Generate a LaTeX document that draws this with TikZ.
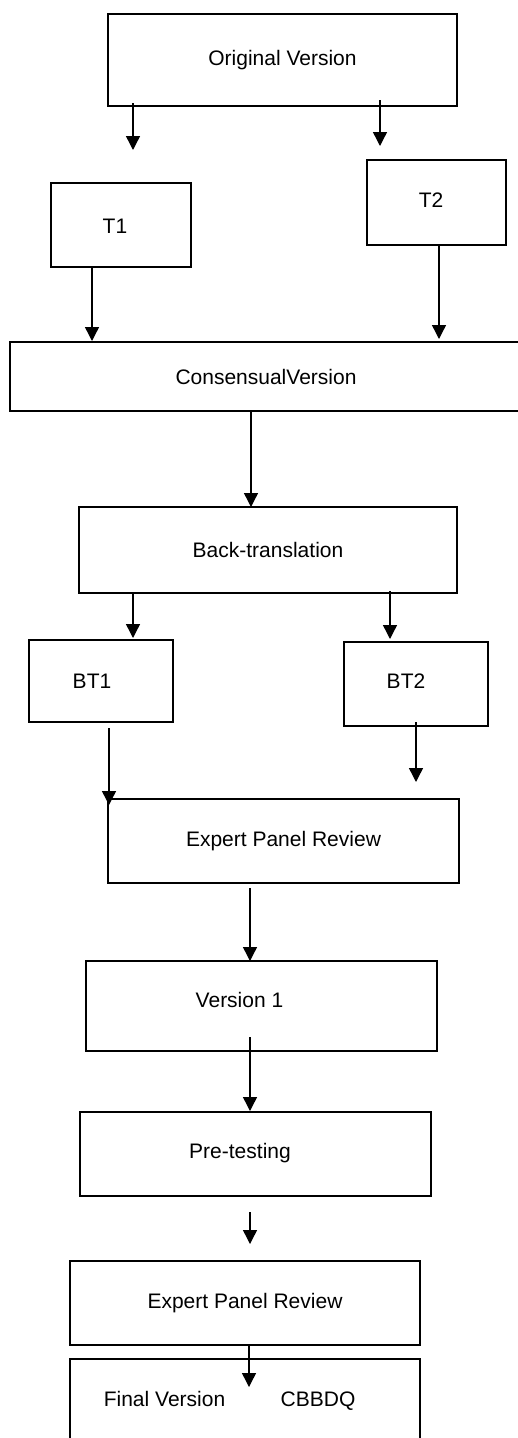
\documentclass[tikz,border=0pt]{standalone}
\usepackage{fontspec}
\setmainfont{Liberation Sans}
\usetikzlibrary{arrows.meta,calc}
\begin{document}
\begin{tikzpicture}[x=1pt,y=-1pt,
  font=\fontsize{21}{25}\selectfont,
  box/.style={draw,line width=1.5pt,inner sep=0pt,outer sep=0pt},
  lab/.style={text height=15pt,text depth=0pt},
  arr/.style={line width=1.4pt,-{Triangle[width=14pt,length=14pt]}}]
\useasboundingbox (0,0) rectangle (518,1438);
\clip (0,0) rectangle (518,1438);
% boxes
\node[box,minimum width=349pt,minimum height=92pt] (orig) at (282.5,60) {Original Version};
\node[box,minimum width=140pt,minimum height=84pt,
  label={[name=t1t,lab,xshift=-6pt,yshift=-0.5pt]center:T1}] (t1) at (121,225) {};
\node[box,minimum width=139pt,minimum height=85pt,
  label={[name=t2t,lab,xshift=-5.5pt,yshift=2.5pt]center:T2}] (t2) at (436.5,202.5) {};
\node[box,minimum width=512pt,minimum height=69pt] (cons) at (266,376.5) {ConsensualVersion};
\node[box,minimum width=378pt,minimum height=86pt] (bt) at (268,550) {Back-translation};
\node[box,minimum width=144pt,minimum height=82pt,
  label={[name=bt1t,lab,xshift=-9pt]center:BT1}] (bt1) at (101,681) {};
\node[box,minimum width=144pt,minimum height=84pt,
  label={[name=bt2t,lab,xshift=-10pt,yshift=3pt]center:BT2}] (bt2) at (416,684) {};
\node[box,minimum width=351pt,minimum height=84pt] (epr1) at (283.5,841) {Expert Panel Review};
\node[box,minimum width=351pt,minimum height=90pt,
  label={[name=v1t,lab,xshift=-22pt,yshift=6pt]center:Version 1}] (v1) at (261.5,1006) {};
\node[box,minimum width=351pt,minimum height=84pt,
  label={[name=pret,lab,xshift=-15.5pt,yshift=3.5pt]center:Pre-testing}] (pre) at (255.5,1154) {};
\node[box,minimum width=350pt,minimum height=84pt] (epr2) at (245,1303) {Expert Panel Review};
\node[box,minimum width=350pt,minimum height=90pt,
  label={[name=fint,lab,xshift=-80.5pt,yshift=5pt]center:Final Version},
  label={[name=cbt,lab,xshift=73pt,yshift=5pt]center:CBBDQ}] (fin) at (245,1404) {};
% free ends
\coordinate (a1) at (133,150);
\coordinate (a2) at (380,146);
\coordinate (a8) at (109,805);
\coordinate (a9) at (416,782);
\coordinate (s12) at (250,1212);
\coordinate (a12) at (250,1244);
\coordinate (a13) at (249,1387);
% start points on nodes
\path ($(t1.south)+(-29,0)$) coordinate (s3);
\path ($(t2.south)+(2.5,0)$) coordinate (s4);
\path ($(cons.south)+(-15,0)$) coordinate (s5);
\path ($(bt.south)+(-135,0)$) coordinate (s6);
\path ($(bt.south)+(122,-2)$) coordinate (s7);
\path ($(bt1.south)+(8,6)$) coordinate (s8);
\path ($(epr1.south)+(-33.5,5)$) coordinate (s10);
\path ($(v1.south)+(-11.5,-14)$) coordinate (s11);
% arrows
\draw[arr] ($(orig.south -| a1)+(0,-3)$) -- (a1);
\draw[arr] ($(orig.south -| a2)+(0,-6)$) -- (a2);
\draw[arr] (s3) -- ($(s3 |- cons.north)+(0,-1)$);
\draw[arr] (s4) -- ($(s4 |- cons.north)+(0,-3)$);
\draw[arr] (s5) -- (s5 |- bt.north);
\draw[arr] (s6) -- ($(s6 |- bt1.north)+(0,-2)$);
\draw[arr] (s7) -- ($(s7 |- bt2.north)+(0,-3)$);
\draw[arr] (s8) -- (a8);
\draw[arr] ($(bt2.south)+(0,-4)$) -- (a9);
\draw[arr] (s10) -- (s10 |- v1.north);
\draw[arr] (s11) -- ($(s11 |- pre.north)+(0,-1)$);
\draw[arr] (s12) -- (a12);
\draw[arr] (epr2.south -| a13) -- (a13);
\end{tikzpicture}
\end{document}
